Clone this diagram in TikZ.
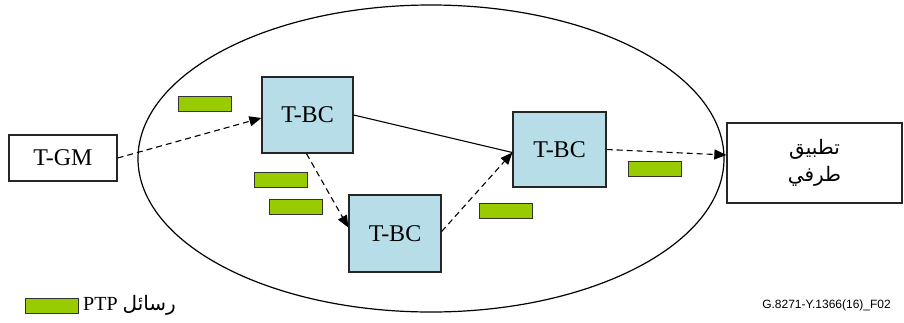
\documentclass[tikz,border=0pt]{standalone}
\usepackage{fontspec}
\setmainfont{Liberation Serif}
\newfontfamily\arabicfont[Script=Arabic]{DejaVu Sans}
\newfontfamily\labelfont{Liberation Sans}
\TeXXeTstate=1
\usetikzlibrary{arrows.meta}
\definecolor{bcfill}{HTML}{B7DEE8}
\definecolor{msg}{HTML}{99CC00}
\tikzset{
  bcbox/.style={draw=black!85, line width=1.3pt, fill=bcfill, minimum width=91pt, minimum height=76pt, inner sep=0pt, font=\fontsize{24}{28}\selectfont},
  wbox/.style={draw=black!85, line width=1.3pt, fill=white, inner sep=0pt},
  msgbox/.style={draw=black!80, line width=1pt, fill=msg, minimum width=53pt, minimum height=15pt, inner sep=0pt},
  dashline/.style={line width=1.1pt, dash pattern=on 6pt off 4pt},
  tip/.style={-{Triangle[length=12pt,width=10pt]}}
}
\begin{document}
\begin{tikzpicture}[x=1pt,y=-1pt]
\useasboundingbox (0,0) rectangle (904,322);
\draw[line width=1.2pt] (431,158.5) ellipse [x radius=293, y radius=153.5];
\node[wbox, minimum width=108pt, minimum height=46pt, font=\fontsize{24}{28}\selectfont] (tgm) at (63,158) {T-GM};
\node[bcbox] (bc1) at (307.5,115) {T-BC};
\node[bcbox, minimum width=92pt, minimum height=77pt] (bc2) at (395,233.5) {T-BC};
\node[bcbox, minimum width=93pt, minimum height=75pt] (bc3) at (559.5,149.5) {T-BC};
\node[wbox, minimum width=175pt, minimum height=80pt, align=center, font=\arabicfont\fontsize{20}{27}\selectfont] (app) at (814.5,163) {\beginR تطبيق\endR\\\beginR طرفي\endR};
\node[msgbox] (g1) at (204.5,103.5) {};
\node[msgbox] (g2) at (280.5,180) {};
\node[msgbox] (g3) at (296,207) {};
\node[msgbox] (g4) at (506,210.5) {};
\node[msgbox] (g5) at (654.5,168.5) {};
\node[msgbox] (lg) at (51.5,305.5) {};
\node[anchor=west, inner sep=0pt, font=\fontsize{20}{24}\selectfont] (lgtext) at (83,305) {\beginR{\arabicfont رسائل} \beginL PTP\endL\endR};
\node[anchor=east, inner sep=0pt, font=\labelfont\fontsize{12}{14}\selectfont] (fig) at (891,305) {G.8271-Y.1366(16)\_F02};
\draw[dashline, tip] (tgm.east) -- ([yshift=-3pt]bc1.west);
\draw[line width=1.1pt] (bc1.east) -- ([yshift=-3pt]bc3.west);
\draw[dashline, tip] ([xshift=-1pt]bc1.south) -- ([yshift=6pt]bc2.west);
\draw[dashline, tip] ([yshift=2pt]bc2.east) -- ([yshift=-3pt]bc3.west);
\draw[dashline, tip] (bc3.east) -- ([yshift=8pt]app.west);
\end{tikzpicture}
\end{document}
